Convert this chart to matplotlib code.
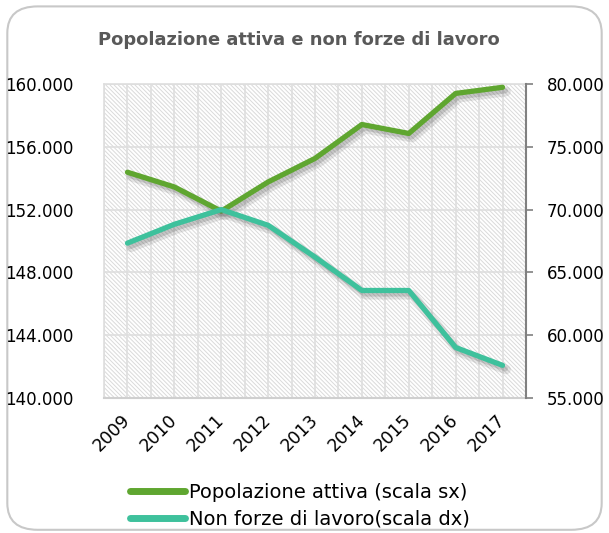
import matplotlib
matplotlib.use("Agg")
import matplotlib.pyplot as plt
import matplotlib.patheffects as pe
from matplotlib.patches import FancyBboxPatch, Rectangle
from matplotlib.ticker import FuncFormatter
import numpy as np

years = ["2009", "2010", "2011", "2012", "2013", "2014", "2015", "2016", "2017"]
popolazione_attiva = [154380, 153440, 151900, 153760, 155260, 157420, 156850, 159400, 159790]
non_forze_lavoro = [67330, 68830, 70000, 68750, 66220, 63560, 63560, 59020, 57600]

left_ticks = [140000, 144000, 148000, 152000, 156000, 160000]
right_ticks = [55000, 60000, 65000, 70000, 75000, 80000]

title = "Popolazione attiva e non forze di lavoro"
label1 = "Popolazione attiva (scala sx)"
label2 = "Non forze di lavoro(scala dx)"

green = "#5FA630"
teal = "#3EC19C"

plt.rcParams['font.family'] = ['DejaVu Sans']
plt.rcParams['hatch.color'] = '#dadada'
plt.rcParams['hatch.linewidth'] = 0.7

fig = plt.figure(figsize=(6.09, 5.33), dpi=100)

# rounded border
border = FancyBboxPatch((0.012, 0.006), 0.976, 0.982,
                        boxstyle="round,pad=0,rounding_size=0.05",
                        transform=fig.transFigure, facecolor='white',
                        edgecolor='#c8c8c8', linewidth=1.5, zorder=-10)
fig.patches.append(border)

ax = fig.add_axes([0.1708, 0.2533, 0.6929, 0.5891])
ax.set_facecolor('white')
ax.add_patch(Rectangle((0, 0), 1, 1, transform=ax.transAxes, facecolor='none',
                       hatch='\\\\\\\\\\\\\\\\', edgecolor='#dadada', linewidth=0, zorder=0))

x = np.arange(len(years))
ax.set_xlim(-0.5, len(years) - 0.5)
ax.set_ylim(left_ticks[0], left_ticks[-1])
ax.set_yticks(left_ticks)
ax.yaxis.set_major_formatter(FuncFormatter(lambda v, p: f"{int(v):,}".replace(",", ".")))
ax.set_xticks(x)
ax.set_xticks(np.arange(-0.5, len(years), 1.0), minor=True)
ax.set_xticklabels(years, rotation=45, fontsize=12.5, ha='right', va='center',
                   rotation_mode='anchor')
ax.tick_params(axis='x', which='both', length=0, pad=14)
ax.tick_params(axis='y', length=0, labelsize=12, pad=22)
ax.grid(True, which='both', axis='x', color='#dedede', linewidth=1.2, zorder=1)
ax.grid(True, which='major', axis='y', color='#dedede', linewidth=1.2, zorder=1)
ax.set_axisbelow(True)
for s in ['left', 'top', 'right']:
    ax.spines[s].set_color('#dedede')
    ax.spines[s].set_linewidth(1.2)
ax.spines['bottom'].set_color('#cfcfcf')
ax.spines['bottom'].set_linewidth(1.5)

shadow = [pe.SimpleLineShadow(offset=(2.5, -3), shadow_color='#555555', alpha=0.15, linewidth=7),
          pe.SimpleLineShadow(offset=(2, -2.5), shadow_color='#555555', alpha=0.22),
          pe.Normal()]

l1, = ax.plot(x, popolazione_attiva, color=green, linewidth=3.8, solid_capstyle='round',
              solid_joinstyle='round', path_effects=shadow, zorder=3, label=label1)

ax2 = ax.twinx()
ax2.set_ylim(right_ticks[0], right_ticks[-1])
ax2.set_yticks(right_ticks)
ax2.yaxis.set_major_formatter(FuncFormatter(lambda v, p: f"{int(v):,}".replace(",", ".")))
ax2.tick_params(axis='y', direction='out', length=5, width=1.2, color='#808080',
                labelsize=12, pad=10)
for s in ['left', 'top', 'bottom']:
    ax2.spines[s].set_visible(False)
ax2.spines['right'].set_color('#808080')
ax2.spines['right'].set_linewidth(1.5)

l2, = ax2.plot(x, non_forze_lavoro, color=teal, linewidth=3.8, solid_capstyle='round',
               solid_joinstyle='round', path_effects=shadow, zorder=3, label=label2)

fig.text(0.49, 0.925, title, ha='center', va='center', fontsize=12.9,
         fontweight='bold', color='#595959')

leg = fig.legend(handles=[l1, l2], loc='center', bbox_to_anchor=(0.4926, 0.0507),
                 frameon=False, fontsize=14, handlelength=2.85, handletextpad=0.2,
                 labelspacing=0.38, borderpad=0)
for h in leg.get_lines():
    h.set_path_effects([pe.Normal()])
    h.set_linewidth(5)

fig.savefig("out.png", dpi=100)
